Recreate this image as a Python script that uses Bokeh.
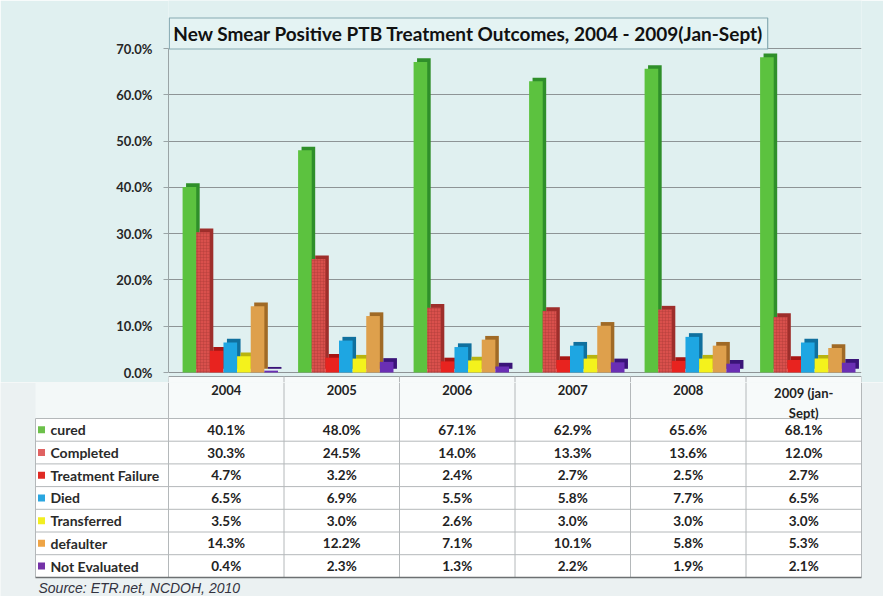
from bokeh.plotting import figure
from bokeh.models import (ColumnDataSource, FactorRange, Range1d, FixedTicker,
                          PrintfTickFormatter, Label)
from bokeh.transform import dodge
from bokeh.layouts import column
from bokeh.core.properties import value
from bokeh.embed import file_html
from bokeh.resources import INLINE

# ---------------- data ----------------
years = ["2004", "2005", "2006", "2007", "2008", "2009 (jan-Sept)"]
header_labels = ["2004", "2005", "2006", "2007", "2008", "2009 (jan-\nSept)"]
series = ["cured", "Completed", "Treatment Failure", "Died", "Transferred",
          "defaulter", "Not Evaluated"]
cured = [40.1, 48.0, 67.1, 62.9, 65.6, 68.1]
completed = [30.3, 24.5, 14.0, 13.3, 13.6, 12.0]
treatment_failure = [4.7, 3.2, 2.4, 2.7, 2.5, 2.7]
died = [6.5, 6.9, 5.5, 5.8, 7.7, 6.5]
transferred = [3.5, 3.0, 2.6, 3.0, 3.0, 3.0]
defaulter = [14.3, 12.2, 7.1, 10.1, 5.8, 5.3]
not_evaluated = [0.4, 2.3, 1.3, 2.2, 1.9, 2.1]
y_ticks = [0, 10, 20, 30, 40, 50, 60, 70]
title_text = "New Smear Positive PTB Treatment Outcomes, 2004 - 2009(Jan-Sept)"
source_text = "Source: ETR.net, NCDOH, 2010"

values = [cured, completed, treatment_failure, died, transferred, defaulter, not_evaluated]
front_colors = ["#5cc23f", "#d9504c", "#e8231f", "#1ea6e2", "#f4f21c", "#dea04c", "#6a2fb4"]
side_colors = ["#2f8f2a", "#9e2e2b", "#a81512", "#10709e", "#b8b410", "#a06a26", "#3a1478"]
legend_colors = ["#6cc04a", "#e06262", "#e02a24", "#2aa6e0", "#f2ee22", "#eea446", "#7532a8"]

FONT = "Lato"
BG = "#e0f0f0"

# ---------------- chart ----------------
W = 883
CH = 382
Y0 = 372            # canvas y of value 0
Y70 = 48            # canvas y of value 70
ppu = (Y0 - Y70) / 70.0
y_top = Y0 / ppu
y_bot = -(CH - Y0) / ppu
unit = (861 - 168) / 6.0

data = {"years": years}
for i, vals in enumerate(values):
    data["s%d" % i] = vals
    data["s%d_top3d" % i] = [v + 0.8 for v in vals]
src = ColumnDataSource(data)

p = figure(x_range=FactorRange(*years), y_range=Range1d(y_bot, y_top),
           width=W, height=CH, output_backend="svg", toolbar_location=None,
           x_axis_location=None, min_border_left=168, min_border_right=W - 861,
           min_border_top=0, min_border_bottom=0, frame_align=False)
p.x_range.range_padding = 0
p.border_fill_color = BG
p.background_fill_color = BG
p.outline_line_color = None

p.yaxis.ticker = FixedTicker(ticks=y_ticks)
p.yaxis.formatter = PrintfTickFormatter(format="%.1f%%")
p.yaxis.bounds = (0, 70)
p.yaxis.axis_line_color = "#9aa4a6"
p.yaxis.major_tick_line_color = "#9aa4a6"
p.yaxis.major_tick_out = 5
p.yaxis.major_tick_in = 0
p.yaxis.minor_tick_line_color = None
p.yaxis.major_label_text_font = FONT
p.yaxis.major_label_text_font_style = "bold"
p.yaxis.major_label_text_font_size = "13px"
p.yaxis.major_label_text_color = "#262626"
p.yaxis.major_label_standoff = 11
p.xgrid.grid_line_color = None
p.ygrid.ticker = FixedTicker(ticks=y_ticks)
p.ygrid.grid_line_color = "#8e9496"
p.ygrid.grid_line_width = 1

# header cells start inside the chart canvas (white band under the floor)
hdr_top = -(376 - Y0) / ppu
p.quad(left=[0], right=[len(years)], top=[hdr_top], bottom=[y_bot],
       fill_color="#f7fafa", line_color=None)
p.segment(x0=[0], y0=[hdr_top], x1=[len(years)], y1=[hdr_top], line_color="#9aa0a2", line_width=1)
vx = list(range(len(years) + 1))
p.segment(x0=vx, y0=[hdr_top] * len(vx), x1=vx, y1=[y_bot] * len(vx),
          line_color="#b4b8ba", line_width=1)

bw = 0.118
dx = 0.03
offsets = [(k - 3) * bw + 0.035 for k in range(7)]

for i in range(7):
    p.vbar(x=dodge("years", offsets[i] + dx, range=p.x_range), top="s%d_top3d" % i,
           bottom=0.8, width=bw, source=src, fill_color=side_colors[i], line_color=None)
for i in range(7):
    kw = {}
    if i == 1:
        kw = dict(hatch_pattern="cross", hatch_scale=3, hatch_color="#a83a36", hatch_alpha=0.35)
    p.vbar(x=dodge("years", offsets[i], range=p.x_range), top="s%d" % i, bottom=0,
           width=bw, source=src, fill_color=front_colors[i], line_color=None, **kw)

p.add_layout(Label(x=(468 - 168) / unit, y=(Y0 - 33) / ppu, text=title_text,
                   text_align="center", text_baseline="middle",
                   text_font=FONT, text_font_style="bold", text_font_size="19px",
                   text_color="#111111", border_line_color="#86aab2",
                   border_line_width=1.2, background_fill_color="#e4f3f3",
                   padding=4))

# ---------------- table ----------------
TH = 596 - CH
x_left = (0 - 168) / unit
x_right = (W - 168) / unit
tab_left = (35 - 168) / unit
header_h = 418 - CH
row_h = 22.7

t = figure(x_range=Range1d(x_left, x_right), y_range=Range1d(TH, 0),
           width=W, height=TH, output_backend="svg", toolbar_location=None,
           x_axis_location=None, y_axis_location=None, frame_align=False,
           min_border_left=0, min_border_right=0, min_border_top=0, min_border_bottom=0)
t.grid.visible = False
t.outline_line_color = None
t.background_fill_color = "#ebf1f2"
t.border_fill_color = "#ebf1f2"

n_rows = len(series)
bottom_y = header_h + row_h * n_rows

t.quad(left=[tab_left], right=[0], top=[0], bottom=[header_h], fill_color="#f3f8f8", line_color=None)
t.quad(left=[0], right=[len(years)], top=[0], bottom=[header_h], fill_color="#f7fafa", line_color=None)
t.quad(left=[tab_left], right=[len(years)], top=[header_h], bottom=[bottom_y],
       fill_color="#ffffff", line_color=None)

t.segment(x0=vx, y0=[0] * len(vx), x1=vx, y1=[bottom_y] * len(vx), line_color="#b4b8ba", line_width=1)
t.segment(x0=[tab_left], y0=[header_h], x1=[tab_left], y1=[bottom_y], line_color="#b4b8ba", line_width=1)
hy = [header_h + row_h * r for r in range(n_rows)]
t.segment(x0=[tab_left] * len(hy), y0=hy, x1=[len(years)] * len(hy), y1=hy,
          line_color="#b4b8ba", line_width=1)
t.segment(x0=[tab_left], y0=[bottom_y], x1=[len(years)], y1=[bottom_y],
          line_color="#6c7072", line_width=1.5)

# header
t.text(x=[j + 0.5 for j in range(len(years))], y=[2] * len(years), text=header_labels,
       text_align="center", text_baseline="top", text_font=value(FONT),
       text_font_style="bold", text_font_size="13px", text_color="#222222",
       text_line_height=1.3)

# rows
row_y = [header_h + row_h * (r + 0.5) for r in range(n_rows)]
t.scatter(x=[(41 - 168) / unit] * n_rows, y=row_y, marker="square", size=7,
          fill_color=legend_colors, line_color=None)
t.text(x=[(50 - 168) / unit] * n_rows, y=row_y, text=series, text_align="left",
       text_baseline="middle", text_font=value(FONT), text_font_style="bold",
       text_font_size="14px", text_color="#2a2a2a")

cx, cy, ct = [], [], []
for r, vals in enumerate(values):
    for j, v in enumerate(vals):
        cx.append(j + 0.5)
        cy.append(row_y[r])
        ct.append("%.1f%%" % v)
t.text(x=cx, y=cy, text=ct, text_align="center", text_baseline="middle",
       text_font=value(FONT), text_font_style="bold", text_font_size="13.5px",
       text_color="#222222")

t.text(x=[(38 - 168) / unit], y=[bottom_y + 11], text=[source_text], text_align="left",
       text_baseline="middle", text_font=value("Liberation Sans"), text_font_style="italic",
       text_font_size="14px", text_color="#333340")

layout = column(p, t, spacing=0)
open("out.html", "w").write(file_html(layout, INLINE))
